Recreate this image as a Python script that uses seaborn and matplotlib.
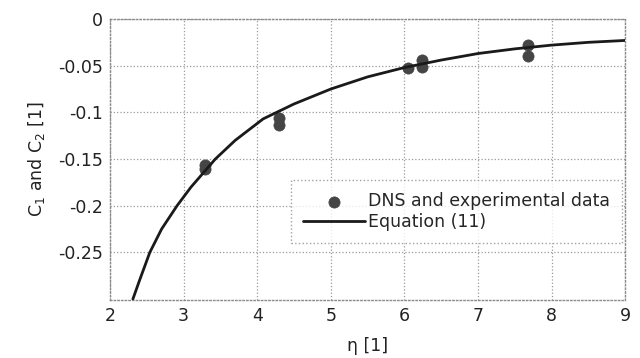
import matplotlib
matplotlib.use("Agg")
import matplotlib.pyplot as plt
import seaborn as sns
import pandas as pd

# Data
eta_data = [3.29, 3.29, 4.29, 4.29, 6.05, 6.24, 6.24, 7.68, 7.68]
c_data = [-0.156, -0.161, -0.106, -0.1135, -0.053, -0.044, -0.051, -0.028, -0.040]

eta_eq = [2.31, 2.40, 2.54, 2.70, 2.91, 3.10, 3.43, 3.70, 4.08, 4.50, 5.00,
          5.50, 6.00, 6.50, 7.00, 7.50, 8.00, 8.50, 9.00]
c_eq = [-0.300, -0.280, -0.250, -0.225, -0.200, -0.180, -0.150, -0.130, -0.107,
        -0.091, -0.075, -0.062, -0.052, -0.044, -0.037, -0.032, -0.028, -0.025, -0.023]

xticks = [2, 3, 4, 5, 6, 7, 8, 9]
yticks = [0, -0.05, -0.1, -0.15, -0.2, -0.25]
ytick_labels = ["0", "-0.05", "-0.1", "-0.15", "-0.2", "-0.25"]

sns.set_style("white")
plt.rcParams['font.family'] = ['DejaVu Sans']
plt.rcParams['mathtext.fontset'] = 'dejavusans'

FS = 12.5
fig = plt.figure(figsize=(6.4, 3.58), dpi=100)
ax = fig.add_axes([0.172, 0.162, 0.805, 0.785])

df_pts = pd.DataFrame({"eta": eta_data, "c": c_data})
df_eq = pd.DataFrame({"eta": eta_eq, "c": c_eq})

sns.scatterplot(data=df_pts, x="eta", y="c", ax=ax, s=65, color="#454545",
                edgecolor="#454545", linewidth=0.5, label="DNS and experimental data", zorder=3)
sns.lineplot(data=df_eq, x="eta", y="c", ax=ax, color="#1a1a1a", linewidth=2.0,
             label="Equation (11)", zorder=4, sort=False)

ax.set_xlim(2, 9)
ax.set_ylim(-0.301, 0)
ax.set_xticks(xticks)
ax.set_xticklabels([str(t) for t in xticks])
ax.set_yticks(yticks)
ax.set_yticklabels(ytick_labels)
ax.tick_params(labelsize=FS, colors="#222222", length=0, pad=5)
ax.grid(True, linestyle=":", color="#9a9a9a", linewidth=0.9)
for sp in ax.spines.values():
    sp.set_color("#8a8a8a")
    sp.set_linewidth(1.0)
    sp.set_linestyle(":")

ax.set_xlabel("η [1]", fontsize=FS, color="#222222", labelpad=9)
ax.set_ylabel("C$_1$ and C$_2$ [1]", fontsize=FS, color="#222222", labelpad=8)

leg = ax.legend(loc="upper right", bbox_to_anchor=(0.994, 0.427), fontsize=FS,
                frameon=True, fancybox=False, handlelength=3.6, handletextpad=0.15,
                borderpad=0.7, labelspacing=0.15, borderaxespad=0)
leg.get_frame().set_edgecolor("#8a8a8a")
leg.get_frame().set_linestyle(":")
leg.get_frame().set_linewidth(1.0)

fig.savefig("out.png", dpi=100)
